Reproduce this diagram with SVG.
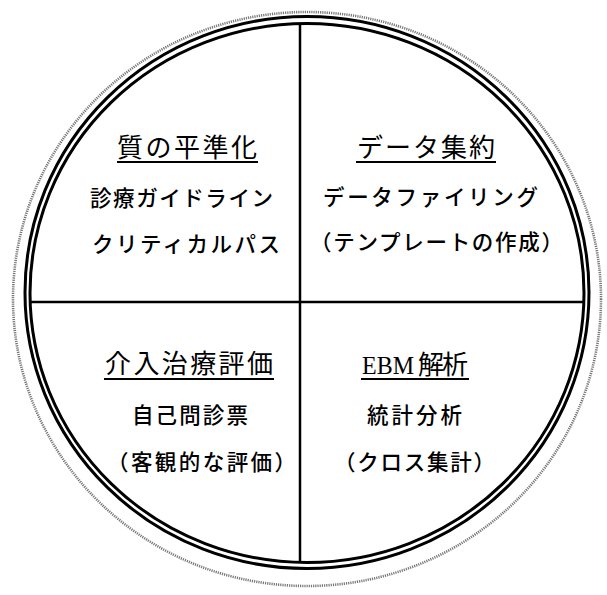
<svg xmlns="http://www.w3.org/2000/svg" width="607" height="595" viewBox="0 0 607 595">
<style>
.ring{fill:none;stroke:#000;stroke-width:3}
.dots{fill:none;stroke:#777;stroke-width:2.6;stroke-dasharray:1.2 1}
.div{stroke:#000;stroke-width:2.5}
.t{font-family:"Noto Sans CJK JP","Noto Sans CJK SC",sans-serif;font-size:26px;font-weight:400;fill:#000}
.b{font-family:"Noto Sans CJK JP","Noto Sans CJK SC",sans-serif;font-size:21.5px;font-weight:500;fill:#000}
.e{font-family:"Liberation Serif","Noto Sans CJK JP",serif;font-size:26px;fill:#000}
.ul{stroke:#000;stroke-width:2.2}
</style>
<rect width="607" height="595" fill="#fff"/>
<g id="frame">
<ellipse class="dots" cx="307" cy="299" rx="294" ry="287"/>
<ellipse class="ring" cx="307" cy="292.5" rx="282" ry="276"/>
<ellipse class="ring" cx="307" cy="293" rx="277" ry="269.5"/>
</g>
<g id="connectors">
<line class="div" x1="300" y1="24" x2="300" y2="563"/>
<line class="div" x1="30" y1="302" x2="583" y2="302"/>
</g>
<g id="q1">
<text class="t" x="117" y="157" textLength="140" lengthAdjust="spacing">質の平準化</text>
<line class="ul" x1="117" y1="162" x2="258" y2="162"/>
<text class="b" x="90" y="206" textLength="183" lengthAdjust="spacing">診療ガイドライン</text>
<text class="b" x="92" y="252" textLength="188" lengthAdjust="spacing">クリティカルパス</text>
</g>
<g id="q2">
<text class="t" x="357" y="157" textLength="138" lengthAdjust="spacing">データ集約</text>
<line class="ul" x1="356" y1="162" x2="496" y2="162"/>
<text class="b" x="323" y="205" textLength="215" lengthAdjust="spacing">データファイリング</text>
<text class="b" x="310" y="250" textLength="253" lengthAdjust="spacing">（テンプレートの作成）</text>
</g>
<g id="q3">
<text class="t" x="105" y="373" textLength="168" lengthAdjust="spacing">介入治療評価</text>
<line class="ul" x1="104" y1="379" x2="274" y2="379"/>
<text class="b" x="132" y="423" textLength="116" lengthAdjust="spacing">自己問診票</text>
<text class="b" x="107" y="470" textLength="189" lengthAdjust="spacing">（客観的な評価）</text>
</g>
<g id="q4">
<text class="e" x="362" y="374" textLength="52" lengthAdjust="spacingAndGlyphs">EBM</text>
<text class="t" x="418" y="374" textLength="50" lengthAdjust="spacing">解析</text>
<line class="ul" x1="361" y1="379" x2="469" y2="379"/>
<text class="b" x="367" y="423" textLength="95" lengthAdjust="spacing">統計分析</text>
<text class="b" x="334" y="470" textLength="161" lengthAdjust="spacing">（クロス集計）</text>
</g>
</svg>
